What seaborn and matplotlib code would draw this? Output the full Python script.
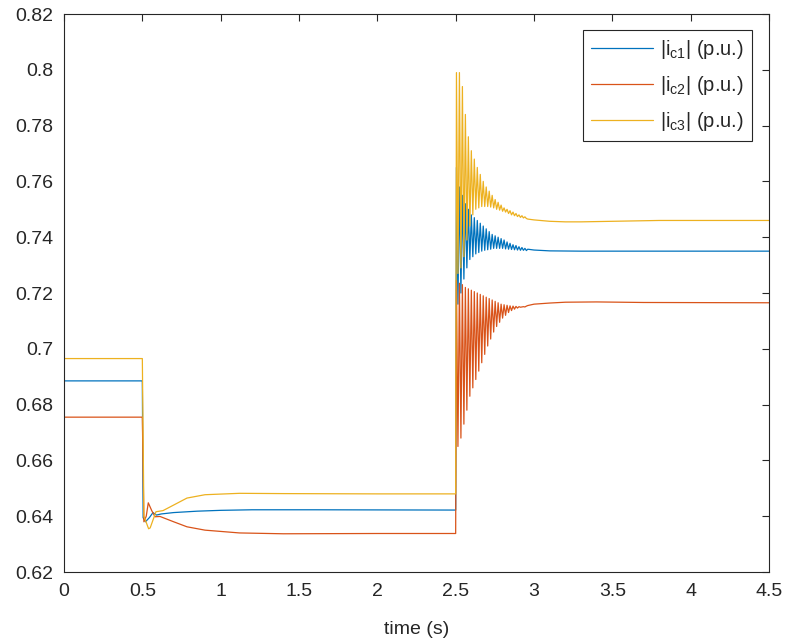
import numpy as np
import pandas as pd
import matplotlib
matplotlib.use("Agg")
import matplotlib.pyplot as plt
import seaborn as sns

# ---------------------------------------------------------------------------
# Data: converter current magnitudes |i_c1|, |i_c2|, |i_c3| in p.u.
# ---------------------------------------------------------------------------
series_names = [r"|i$_{\rm c1}$| (p.u.)", r"|i$_{\rm c2}$| (p.u.)", r"|i$_{\rm c3}$| (p.u.)"]
series_colors = ["#0072BD", "#D95319", "#EDB120"]

# Slow part of each waveform (time in s, value in p.u.) up to the second event
c1_t = [0.0, 0.5, 0.505, 0.52, 0.545, 0.568, 0.59, 0.62, 0.7, 0.85, 1.0, 1.2, 1.6, 2.5]
c1_v = [0.6885, 0.6885, 0.6395, 0.6380, 0.6395, 0.6413, 0.6404, 0.6408, 0.6413, 0.6418, 0.6421, 0.6423, 0.6423, 0.6422]

c2_t = [0.0, 0.5, 0.51, 0.525, 0.538, 0.56, 0.581, 0.613, 0.7, 0.785, 0.9, 1.12, 1.4, 2.0, 2.5]
c2_v = [0.6755, 0.6755, 0.6380, 0.6400, 0.6448, 0.6420, 0.6398, 0.6399, 0.6380, 0.6362, 0.6350, 0.6340, 0.6337, 0.6338, 0.6338]

c3_t = [0.0, 0.5, 0.51, 0.54, 0.55, 0.587, 0.632, 0.7, 0.785, 0.9, 1.12, 1.4, 2.0, 2.5]
c3_v = [0.6965, 0.6965, 0.6400, 0.6355, 0.6358, 0.6416, 0.6420, 0.6440, 0.6465, 0.6477, 0.6482, 0.6481, 0.6480, 0.6480]

# Oscillation after the event at t = 2.5 s: successive maxima and minima
t_event = 2.5
osc_period = 0.019
c1_peaks = [0.765, 0.758, 0.755, 0.752, 0.750, 0.748, 0.747, 0.746, 0.745, 0.744, 0.743, 0.742,
            0.741, 0.7405, 0.740, 0.7395, 0.739, 0.7383, 0.7378, 0.7373, 0.737, 0.7366, 0.7363, 0.736]
c1_troughs = [0.716, 0.720, 0.725, 0.729, 0.732, 0.733, 0.734, 0.7345, 0.735, 0.7353, 0.7355, 0.7357,
              0.736, 0.736, 0.736, 0.736, 0.7358, 0.7357, 0.7356, 0.7355, 0.7354, 0.7353, 0.7353, 0.7352]
c2_peaks = [0.7245, 0.7235, 0.723, 0.722, 0.7215, 0.721, 0.7205, 0.720, 0.7195, 0.719, 0.7185, 0.718,
            0.7175, 0.717, 0.7165, 0.716, 0.7158, 0.7156, 0.7154, 0.7153, 0.7152, 0.7151, 0.715, 0.715]
c2_troughs = [0.665, 0.668, 0.673, 0.678, 0.683, 0.686, 0.689, 0.692, 0.695, 0.698, 0.701, 0.7035,
              0.706, 0.708, 0.7095, 0.711, 0.712, 0.713, 0.7137, 0.7142, 0.7146, 0.7149, 0.7151, 0.7153]
c3_peaks = [0.799, 0.799, 0.794, 0.784, 0.776, 0.771, 0.768, 0.765, 0.7625, 0.760, 0.758, 0.7565,
            0.755, 0.7535, 0.7525, 0.7515, 0.7505, 0.750, 0.7495, 0.749, 0.7485, 0.748, 0.7477, 0.7473]
c3_troughs = [0.727, 0.729, 0.733, 0.739, 0.744, 0.748, 0.750, 0.7505, 0.751, 0.751, 0.751, 0.7508,
              0.7505, 0.750, 0.7497, 0.7493, 0.749, 0.7485, 0.748, 0.7477, 0.7474, 0.7471, 0.7469, 0.7467]

# Settled part after the oscillation decays
c1_tail_t = [2.96, 3.0, 3.1, 3.3, 4.5]
c1_tail_v = [0.7357, 0.7354, 0.7351, 0.7350, 0.7350]
c2_tail_t = [2.96, 3.0, 3.1, 3.2, 3.4, 3.7, 4.5]
c2_tail_v = [0.7155, 0.7160, 0.7164, 0.7167, 0.7168, 0.7166, 0.7165]
c3_tail_t = [2.96, 3.0, 3.1, 3.2, 3.3, 3.5, 3.8, 4.5]
c3_tail_v = [0.7465, 0.7462, 0.7457, 0.7455, 0.7455, 0.7457, 0.7460, 0.7460]

x_ticks = [0, 0.5, 1, 1.5, 2, 2.5, 3, 3.5, 4, 4.5]
x_tick_labels = ["0", "0.5", "1", "1.5", "2", "2.5", "3", "3.5", "4", "4.5"]
y_ticks = [0.62, 0.64, 0.66, 0.68, 0.70, 0.72, 0.74, 0.76, 0.78, 0.80, 0.82]
y_tick_labels = ["0.62", "0.64", "0.66", "0.68", "0.7", "0.72", "0.74", "0.76", "0.78", "0.8", "0.82"]


def build_trace(t_slow, v_slow, peaks, troughs, t_tail, v_tail):
    t, v = list(t_slow), list(v_slow)
    for k, (hi, lo) in enumerate(zip(peaks, troughs)):
        tk = t_event + 0.005 + k * osc_period
        t += [tk, tk + osc_period / 2]
        v += [hi, lo]
    return t + list(t_tail), v + list(v_tail)


frames = []
for name, args in zip(series_names, [
        (c1_t, c1_v, c1_peaks, c1_troughs, c1_tail_t, c1_tail_v),
        (c2_t, c2_v, c2_peaks, c2_troughs, c2_tail_t, c2_tail_v),
        (c3_t, c3_v, c3_peaks, c3_troughs, c3_tail_t, c3_tail_v)]):
    t, v = build_trace(*args)
    frames.append(pd.DataFrame({"time": t, "value": v, "series": name}))
df = pd.concat(frames, ignore_index=True)

# ---------------------------------------------------------------------------
# Plot
# ---------------------------------------------------------------------------
sns.set_style("white")
plt.rcParams["font.family"] = ["Liberation Sans", "DejaVu Sans"]
plt.rcParams["mathtext.fontset"] = "custom"
plt.rcParams["mathtext.rm"] = "Liberation Sans"

axis_color = "#262626"
fig = plt.figure(figsize=(7.87, 6.43), dpi=100)
ax = fig.add_axes([64 / 787, 1 - 572 / 643, (769 - 64) / 787, (572 - 14) / 643])

sns.lineplot(data=df, x="time", y="value", hue="series", palette=series_colors,
             sort=False, estimator=None, linewidth=0.9, ax=ax, legend=False)

ax.set_xlim(0, 4.5)
ax.set_ylim(0.62, 0.82)
ax.set_xticks(x_ticks)
ax.set_xticklabels(x_tick_labels)
ax.set_yticks(y_ticks)
ax.set_yticklabels(y_tick_labels)
ax.set_xlabel("time (s)", fontsize=14, color=axis_color, labelpad=15)
ax.set_ylabel("")

for side in ["left", "right", "top", "bottom"]:
    ax.spines[side].set_visible(True)
    ax.spines[side].set_color(axis_color)
    ax.spines[side].set_linewidth(0.8)
ax.tick_params(axis="both", direction="in", length=5, width=0.8, color=axis_color,
               labelcolor=axis_color, labelsize=14, top=True, right=True, pad=8)

handles = [plt.Line2D([], [], color=c, linewidth=0.9) for c in series_colors]
leg = ax.legend(handles, series_names, loc="upper right", bbox_to_anchor=(0.976, 0.971),
                borderaxespad=0, fontsize=14.5, handlelength=3.1, handletextpad=0.35,
                labelspacing=0.65, borderpad=0.4, fancybox=False, framealpha=1)
leg.get_frame().set_edgecolor(axis_color)
leg.get_frame().set_linewidth(0.8)
for txt in leg.get_texts():
    txt.set_color(axis_color)

fig.savefig("out.png", dpi=100)
